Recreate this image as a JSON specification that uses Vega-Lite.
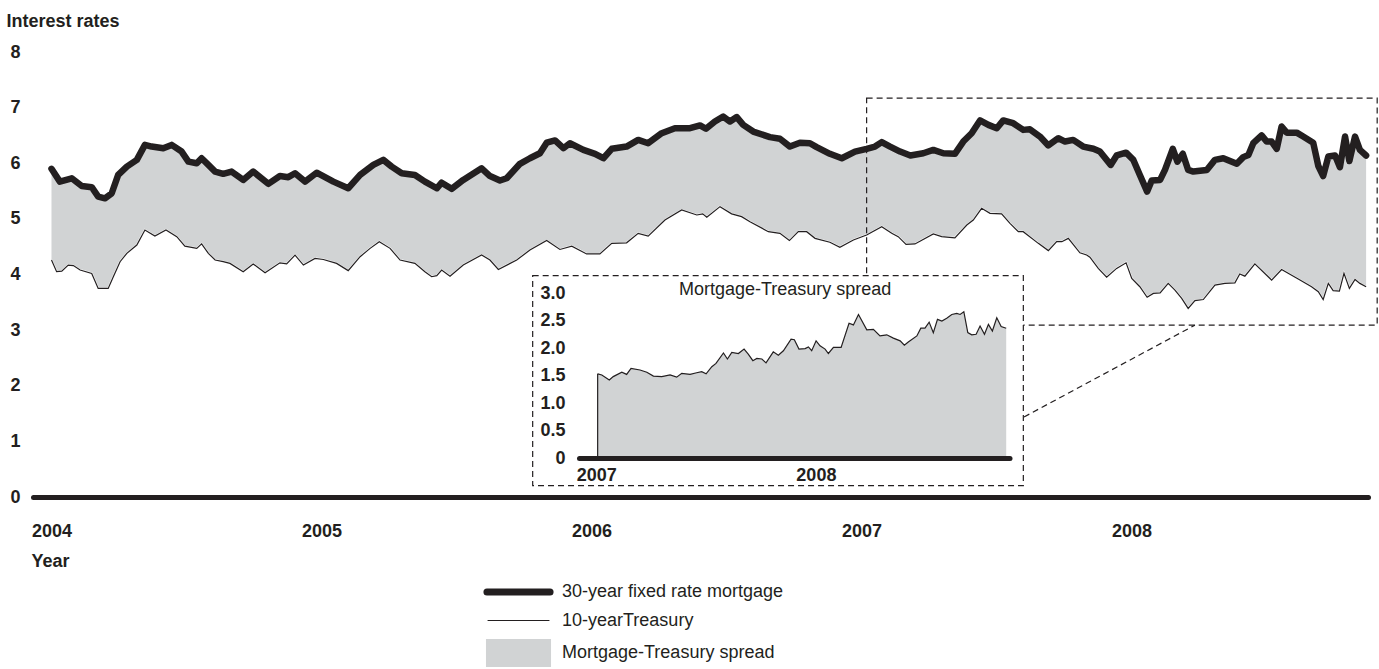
{
"$schema": "https://vega.github.io/schema/vega-lite/v6.json",
"width": 1335,
"height": 445,
"autosize": "none",
"padding": {"left": 33, "top": 52, "right": 11, "bottom": 172},
"background": "white",
"config": {"font": "Liberation Sans", "view": {"stroke": null}, "axis": {"grid": false, "labelColor": "#231f20", "titleColor": "#231f20"}},
"datasets": {
"mortgage": [
{"year":2004.000,"rate":5.90},{"year":2004.031,"rate":5.67},{"year":2004.075,"rate":5.73},{"year":2004.112,"rate":5.59},{"year":2004.149,"rate":5.57},{"year":2004.173,"rate":5.40},{"year":2004.198,"rate":5.37},{"year":2004.223,"rate":5.46},{"year":2004.247,"rate":5.79},{"year":2004.279,"rate":5.94},{"year":2004.316,"rate":6.06},{"year":2004.346,"rate":6.33},{"year":2004.371,"rate":6.30},{"year":2004.414,"rate":6.27},{"year":2004.445,"rate":6.33},{"year":2004.482,"rate":6.21},{"year":2004.507,"rate":6.03},{"year":2004.538,"rate":6.00},{"year":2004.556,"rate":6.09},{"year":2004.581,"rate":5.97},{"year":2004.606,"rate":5.85},{"year":2004.636,"rate":5.81},{"year":2004.667,"rate":5.85},{"year":2004.710,"rate":5.70},{"year":2004.747,"rate":5.85},{"year":2004.803,"rate":5.63},{"year":2004.846,"rate":5.77},{"year":2004.877,"rate":5.75},{"year":2004.902,"rate":5.82},{"year":2004.939,"rate":5.67},{"year":2004.982,"rate":5.83},{"year":2005.044,"rate":5.67},{"year":2005.099,"rate":5.55},{"year":2005.143,"rate":5.79},{"year":2005.192,"rate":5.97},{"year":2005.229,"rate":6.06},{"year":2005.260,"rate":5.94},{"year":2005.297,"rate":5.82},{"year":2005.346,"rate":5.79},{"year":2005.383,"rate":5.67},{"year":2005.427,"rate":5.55},{"year":2005.445,"rate":5.65},{"year":2005.482,"rate":5.54},{"year":2005.525,"rate":5.70},{"year":2005.593,"rate":5.91},{"year":2005.624,"rate":5.77},{"year":2005.661,"rate":5.69},{"year":2005.686,"rate":5.73},{"year":2005.735,"rate":5.99},{"year":2005.772,"rate":6.09},{"year":2005.809,"rate":6.18},{"year":2005.834,"rate":6.37},{"year":2005.865,"rate":6.41},{"year":2005.896,"rate":6.27},{"year":2005.920,"rate":6.36},{"year":2005.970,"rate":6.24},{"year":2006.013,"rate":6.17},{"year":2006.044,"rate":6.09},{"year":2006.075,"rate":6.26},{"year":2006.130,"rate":6.30},{"year":2006.173,"rate":6.42},{"year":2006.210,"rate":6.36},{"year":2006.260,"rate":6.54},{"year":2006.309,"rate":6.63},{"year":2006.365,"rate":6.63},{"year":2006.402,"rate":6.68},{"year":2006.424,"rate":6.62},{"year":2006.457,"rate":6.75},{"year":2006.488,"rate":6.84},{"year":2006.513,"rate":6.75},{"year":2006.538,"rate":6.83},{"year":2006.562,"rate":6.69},{"year":2006.599,"rate":6.57},{"year":2006.661,"rate":6.47},{"year":2006.698,"rate":6.44},{"year":2006.735,"rate":6.30},{"year":2006.772,"rate":6.37},{"year":2006.809,"rate":6.36},{"year":2006.834,"rate":6.29},{"year":2006.883,"rate":6.17},{"year":2006.927,"rate":6.09},{"year":2006.976,"rate":6.21},{"year":2007.019,"rate":6.26},{"year":2007.050,"rate":6.30},{"year":2007.075,"rate":6.38},{"year":2007.106,"rate":6.30},{"year":2007.143,"rate":6.21},{"year":2007.181,"rate":6.14},{"year":2007.229,"rate":6.18},{"year":2007.266,"rate":6.24},{"year":2007.303,"rate":6.18},{"year":2007.346,"rate":6.17},{"year":2007.377,"rate":6.39},{"year":2007.408,"rate":6.54},{"year":2007.439,"rate":6.77},{"year":2007.470,"rate":6.69},{"year":2007.501,"rate":6.63},{"year":2007.525,"rate":6.77},{"year":2007.562,"rate":6.72},{"year":2007.599,"rate":6.60},{"year":2007.624,"rate":6.61},{"year":2007.661,"rate":6.48},{"year":2007.692,"rate":6.32},{"year":2007.729,"rate":6.45},{"year":2007.754,"rate":6.39},{"year":2007.784,"rate":6.42},{"year":2007.821,"rate":6.30},{"year":2007.859,"rate":6.26},{"year":2007.883,"rate":6.21},{"year":2007.923,"rate":5.97},{"year":2007.945,"rate":6.14},{"year":2007.980,"rate":6.19},{"year":2008.007,"rate":6.06},{"year":2008.031,"rate":5.79},{"year":2008.058,"rate":5.49},{"year":2008.075,"rate":5.69},{"year":2008.106,"rate":5.70},{"year":2008.124,"rate":5.88},{"year":2008.153,"rate":6.26},{"year":2008.170,"rate":6.03},{"year":2008.190,"rate":6.17},{"year":2008.210,"rate":5.88},{"year":2008.229,"rate":5.85},{"year":2008.279,"rate":5.88},{"year":2008.309,"rate":6.06},{"year":2008.340,"rate":6.09},{"year":2008.390,"rate":5.99},{"year":2008.414,"rate":6.11},{"year":2008.433,"rate":6.15},{"year":2008.451,"rate":6.36},{"year":2008.482,"rate":6.50},{"year":2008.501,"rate":6.39},{"year":2008.519,"rate":6.39},{"year":2008.538,"rate":6.26},{"year":2008.556,"rate":6.66},{"year":2008.575,"rate":6.55},{"year":2008.612,"rate":6.55},{"year":2008.636,"rate":6.48},{"year":2008.673,"rate":6.37},{"year":2008.692,"rate":5.95},{"year":2008.710,"rate":5.77},{"year":2008.729,"rate":6.12},{"year":2008.754,"rate":6.14},{"year":2008.772,"rate":5.93},{"year":2008.791,"rate":6.48},{"year":2008.807,"rate":6.04},{"year":2008.828,"rate":6.48},{"year":2008.846,"rate":6.24},{"year":2008.869,"rate":6.14}
],
"treasury": [
{"year":2004.000,"rate":4.26},{"year":2004.019,"rate":4.05},{"year":2004.038,"rate":4.06},{"year":2004.062,"rate":4.17},{"year":2004.081,"rate":4.16},{"year":2004.106,"rate":4.08},{"year":2004.149,"rate":4.02},{"year":2004.173,"rate":3.75},{"year":2004.210,"rate":3.75},{"year":2004.229,"rate":3.96},{"year":2004.254,"rate":4.23},{"year":2004.279,"rate":4.38},{"year":2004.316,"rate":4.53},{"year":2004.346,"rate":4.80},{"year":2004.383,"rate":4.69},{"year":2004.424,"rate":4.80},{"year":2004.464,"rate":4.68},{"year":2004.494,"rate":4.51},{"year":2004.538,"rate":4.47},{"year":2004.556,"rate":4.55},{"year":2004.581,"rate":4.38},{"year":2004.606,"rate":4.26},{"year":2004.636,"rate":4.23},{"year":2004.661,"rate":4.20},{"year":2004.710,"rate":4.05},{"year":2004.747,"rate":4.19},{"year":2004.791,"rate":4.03},{"year":2004.846,"rate":4.21},{"year":2004.871,"rate":4.19},{"year":2004.902,"rate":4.35},{"year":2004.933,"rate":4.17},{"year":2004.976,"rate":4.29},{"year":2005.007,"rate":4.27},{"year":2005.056,"rate":4.20},{"year":2005.099,"rate":4.07},{"year":2005.143,"rate":4.32},{"year":2005.180,"rate":4.47},{"year":2005.214,"rate":4.59},{"year":2005.254,"rate":4.47},{"year":2005.291,"rate":4.26},{"year":2005.346,"rate":4.20},{"year":2005.383,"rate":4.05},{"year":2005.408,"rate":3.96},{"year":2005.427,"rate":3.98},{"year":2005.445,"rate":4.08},{"year":2005.476,"rate":3.97},{"year":2005.525,"rate":4.17},{"year":2005.593,"rate":4.35},{"year":2005.624,"rate":4.26},{"year":2005.655,"rate":4.09},{"year":2005.723,"rate":4.26},{"year":2005.772,"rate":4.44},{"year":2005.834,"rate":4.61},{"year":2005.883,"rate":4.45},{"year":2005.927,"rate":4.51},{"year":2005.982,"rate":4.37},{"year":2006.031,"rate":4.37},{"year":2006.075,"rate":4.56},{"year":2006.130,"rate":4.57},{"year":2006.173,"rate":4.74},{"year":2006.210,"rate":4.69},{"year":2006.272,"rate":4.98},{"year":2006.334,"rate":5.16},{"year":2006.390,"rate":5.07},{"year":2006.412,"rate":5.09},{"year":2006.427,"rate":5.03},{"year":2006.476,"rate":5.22},{"year":2006.519,"rate":5.09},{"year":2006.556,"rate":5.04},{"year":2006.587,"rate":4.95},{"year":2006.655,"rate":4.77},{"year":2006.698,"rate":4.74},{"year":2006.733,"rate":4.61},{"year":2006.766,"rate":4.77},{"year":2006.797,"rate":4.77},{"year":2006.828,"rate":4.65},{"year":2006.883,"rate":4.58},{"year":2006.920,"rate":4.49},{"year":2006.970,"rate":4.62},{"year":2007.019,"rate":4.71},{"year":2007.075,"rate":4.86},{"year":2007.112,"rate":4.74},{"year":2007.136,"rate":4.68},{"year":2007.165,"rate":4.54},{"year":2007.198,"rate":4.55},{"year":2007.266,"rate":4.73},{"year":2007.297,"rate":4.68},{"year":2007.346,"rate":4.66},{"year":2007.390,"rate":4.89},{"year":2007.414,"rate":4.98},{"year":2007.445,"rate":5.19},{"year":2007.476,"rate":5.10},{"year":2007.519,"rate":5.09},{"year":2007.550,"rate":4.92},{"year":2007.581,"rate":4.77},{"year":2007.599,"rate":4.77},{"year":2007.655,"rate":4.56},{"year":2007.692,"rate":4.43},{"year":2007.723,"rate":4.59},{"year":2007.742,"rate":4.59},{"year":2007.766,"rate":4.65},{"year":2007.809,"rate":4.39},{"year":2007.834,"rate":4.35},{"year":2007.846,"rate":4.31},{"year":2007.877,"rate":4.11},{"year":2007.908,"rate":3.95},{"year":2007.945,"rate":4.11},{"year":2007.980,"rate":4.21},{"year":2008.001,"rate":3.93},{"year":2008.031,"rate":3.78},{"year":2008.058,"rate":3.59},{"year":2008.081,"rate":3.66},{"year":2008.106,"rate":3.67},{"year":2008.136,"rate":3.84},{"year":2008.161,"rate":3.72},{"year":2008.186,"rate":3.57},{"year":2008.210,"rate":3.39},{"year":2008.235,"rate":3.53},{"year":2008.266,"rate":3.55},{"year":2008.309,"rate":3.81},{"year":2008.346,"rate":3.84},{"year":2008.383,"rate":3.85},{"year":2008.401,"rate":4.01},{"year":2008.420,"rate":3.97},{"year":2008.457,"rate":4.19},{"year":2008.519,"rate":3.90},{"year":2008.556,"rate":4.09},{"year":2008.624,"rate":3.90},{"year":2008.667,"rate":3.78},{"year":2008.692,"rate":3.69},{"year":2008.710,"rate":3.55},{"year":2008.729,"rate":3.84},{"year":2008.747,"rate":3.71},{"year":2008.770,"rate":3.70},{"year":2008.787,"rate":4.02},{"year":2008.807,"rate":3.75},{"year":2008.828,"rate":3.91},{"year":2008.846,"rate":3.84},{"year":2008.869,"rate":3.78}
],
"spread": [
{"year":2007.006,"spread":1.53},{"year":2007.025,"spread":1.51},{"year":2007.059,"spread":1.42},{"year":2007.077,"spread":1.48},{"year":2007.116,"spread":1.56},{"year":2007.138,"spread":1.52},{"year":2007.158,"spread":1.63},{"year":2007.199,"spread":1.60},{"year":2007.230,"spread":1.56},{"year":2007.260,"spread":1.49},{"year":2007.298,"spread":1.48},{"year":2007.336,"spread":1.51},{"year":2007.366,"spread":1.47},{"year":2007.389,"spread":1.54},{"year":2007.427,"spread":1.52},{"year":2007.457,"spread":1.55},{"year":2007.480,"spread":1.57},{"year":2007.500,"spread":1.53},{"year":2007.526,"spread":1.66},{"year":2007.545,"spread":1.72},{"year":2007.579,"spread":1.91},{"year":2007.597,"spread":1.80},{"year":2007.617,"spread":1.92},{"year":2007.647,"spread":1.90},{"year":2007.673,"spread":1.98},{"year":2007.692,"spread":1.89},{"year":2007.713,"spread":1.77},{"year":2007.731,"spread":1.81},{"year":2007.754,"spread":1.80},{"year":2007.773,"spread":1.73},{"year":2007.806,"spread":1.93},{"year":2007.829,"spread":1.87},{"year":2007.852,"spread":1.95},{"year":2007.887,"spread":2.16},{"year":2007.902,"spread":2.15},{"year":2007.923,"spread":1.98},{"year":2007.951,"spread":1.99},{"year":2007.966,"spread":2.02},{"year":2007.981,"spread":1.95},{"year":2008.001,"spread":2.13},{"year":2008.019,"spread":2.04},{"year":2008.042,"spread":1.98},{"year":2008.057,"spread":1.90},{"year":2008.080,"spread":2.01},{"year":2008.115,"spread":2.01},{"year":2008.151,"spread":2.45},{"year":2008.171,"spread":2.42},{"year":2008.194,"spread":2.61},{"year":2008.232,"spread":2.33},{"year":2008.262,"spread":2.34},{"year":2008.292,"spread":2.22},{"year":2008.323,"spread":2.24},{"year":2008.353,"spread":2.18},{"year":2008.384,"spread":2.13},{"year":2008.403,"spread":2.05},{"year":2008.421,"spread":2.11},{"year":2008.460,"spread":2.22},{"year":2008.478,"spread":2.36},{"year":2008.497,"spread":2.36},{"year":2008.516,"spread":2.47},{"year":2008.535,"spread":2.28},{"year":2008.554,"spread":2.52},{"year":2008.574,"spread":2.49},{"year":2008.596,"spread":2.54},{"year":2008.619,"spread":2.61},{"year":2008.642,"spread":2.63},{"year":2008.657,"spread":2.61},{"year":2008.674,"spread":2.66},{"year":2008.692,"spread":2.28},{"year":2008.710,"spread":2.24},{"year":2008.730,"spread":2.25},{"year":2008.748,"spread":2.40},{"year":2008.768,"spread":2.25},{"year":2008.786,"spread":2.43},{"year":2008.804,"spread":2.31},{"year":2008.824,"spread":2.55},{"year":2008.844,"spread":2.39},{"year":2008.867,"spread":2.36}
]
},
"layer": [
{
"data": {"name": "mortgage"},
"mark": {"type": "area", "opacity": 1},
"encoding": {
"x": {"field": "year", "type": "quantitative", "scale": {"domain": [2003.9315, 2008.876], "nice": false, "zero": false},
"axis": {"orient": "bottom", "values": [2004, 2005, 2006, 2007, 2008], "format": "d", "domainWidth": 5, "domainColor": "#231f20", "domainCap": "round", "ticks": false, "tickSize": 0, "labelPadding": 25, "labelFontSize": 18, "labelFontWeight": "bold", "labelFlush": false, "title": "Year", "titleFontSize": 18, "titleFontWeight": "bold", "titleAnchor": "start", "titleAlign": "left", "titleBaseline": "alphabetic", "titleX": -2, "titleY": 69.5, "zindex": 1}},
"y": {"field": "rate", "type": "quantitative", "scale": {"domain": [0, 8], "nice": false},
"axis": {"orient": "left", "values": [0, 1, 2, 3, 4, 5, 6, 7, 8], "domain": false, "ticks": false, "tickSize": 0, "labelPadding": 13, "labelFontSize": 18, "labelFontWeight": "bold", "title": "Interest rates", "titleAngle": 0, "titleAlign": "left", "titleBaseline": "alphabetic", "titleX": -27, "titleY": -25.5, "titleFontSize": 18, "titleFontWeight": "bold", "zindex": 1}},
"color": {"datum": "Mortgage-Treasury spread", "type": "nominal",
"scale": {"domain": ["30-year fixed rate mortgage", "10-yearTreasury", "Mortgage-Treasury spread"], "range": ["#231f20", "#231f20", "#d1d3d4"]},
"legend": {"orient": "none", "legendX": 476.5, "legendY": 531, "title": null, "padding": 0, "direction": "vertical", "labelFontSize": 18, "labelColor": "#231f20", "labelLimit": 0, "labelOffset": 34.5, "symbolSize": 576, "rowPadding": 3.5,
"encoding": {"symbols": {
"shape": {"value": {"expr": "datum.value === 'Mortgage-Treasury spread' ? 'M-2.71,-1.17H2.71V1.17H-2.71Z' : (datum.value === '30-year fixed rate mortgage' ? 'M-2.63,-0.583M2.63,0.583M-2.63,0H2.63' : 'M-2.54,-1.067M2.54,1.067M-2.54,0H2.54')"}},
"fill": {"value": {"expr": "datum.value === 'Mortgage-Treasury spread' ? '#d1d3d4' : 'transparent'"}},
"stroke": {"value": {"expr": "datum.value === 'Mortgage-Treasury spread' ? 'transparent' : '#231f20'"}},
"strokeWidth": {"value": {"expr": "datum.value === '30-year fixed rate mortgage' ? 7 : (datum.value === '10-yearTreasury' ? 1.2 : 0)"}},
"strokeCap": {"value": "round"},
"strokeJoin": {"value": "round"},
"size": {"value": 576},
"opacity": {"value": 1},
"fillOpacity": {"value": 1},
"strokeOpacity": {"value": 1}
}}}
}
}
},
{
"data": {"name": "treasury"},
"mark": {"type": "area", "fill": "white", "stroke": "white", "strokeWidth": 2, "opacity": 1},
"encoding": {
"x": {"field": "year", "type": "quantitative", "scale": {"domain": [2003.9315, 2008.876], "nice": false, "zero": false}, "axis": null},
"y": {"field": "rate", "type": "quantitative", "scale": {"domain": [0, 8], "nice": false}, "axis": null}
}
},
{
"data": {"name": "treasury"},
"mark": {"type": "line", "strokeWidth": 1.2},
"encoding": {
"x": {"field": "year", "type": "quantitative", "scale": {"domain": [2003.9315, 2008.876], "nice": false, "zero": false}, "axis": null},
"y": {"field": "rate", "type": "quantitative", "scale": {"domain": [0, 8], "nice": false}, "axis": null},
"color": {"datum": "10-yearTreasury", "type": "nominal", "legend": null}
}
},
{
"data": {"name": "mortgage"},
"mark": {"type": "line", "strokeWidth": 6.5, "strokeJoin": "round", "strokeCap": "round"},
"encoding": {
"x": {"field": "year", "type": "quantitative", "scale": {"domain": [2003.9315, 2008.876], "nice": false, "zero": false}, "axis": null},
"y": {"field": "rate", "type": "quantitative", "scale": {"domain": [0, 8], "nice": false}, "axis": null},
"color": {"datum": "30-year fixed rate mortgage", "type": "nominal", "legend": null}
}
},
{
"data": {"values": [{"x1": 2007.019, "x2": 2008.910, "y1": 3.09, "y2": 7.17}]},
"mark": {"type": "rect", "fill": null, "stroke": "#231f20", "strokeWidth": 1.2, "strokeDash": [6, 4]},
"encoding": {
"x": {"field": "x1", "type": "quantitative", "scale": {"domain": [2003.9315, 2008.876], "nice": false, "zero": false}, "axis": null},
"x2": {"field": "x2"},
"y": {"field": "y1", "type": "quantitative", "scale": {"domain": [0, 8], "nice": false}, "axis": null},
"y2": {"field": "y2"}
}
},
{
"data": {"values": [{"x1": 2007.602, "y1": 1.439, "x2": 2008.235, "y2": 3.09}]},
"mark": {"type": "rule", "stroke": "#231f20", "strokeWidth": 1.2, "strokeDash": [6, 4]},
"encoding": {
"x": {"field": "x1", "type": "quantitative", "scale": {"domain": [2003.9315, 2008.876], "nice": false, "zero": false}, "axis": null},
"x2": {"field": "x2"},
"y": {"field": "y1", "type": "quantitative", "scale": {"domain": [0, 8], "nice": false}, "axis": null},
"y2": {"field": "y2"}
}
},
{
"data": {"values": [{"x1": 2006.710, "x2": 2008.945, "y1": -0.504, "y2": 3.315}]},
"mark": {"type": "rect", "fill": "white", "stroke": "#231f20", "strokeWidth": 1.2, "strokeDash": [6, 4]},
"encoding": {
"x": {"field": "x1", "type": "quantitative", "scale": {"domain": [2006.921, 2008.882], "range": [546, 976.5], "nice": false, "zero": false}, "axis": null},
"x2": {"field": "x2"},
"y": {"field": "y1", "type": "quantitative", "scale": {"domain": [0, 3], "range": [406, 241], "nice": false}, "axis": null},
"y2": {"field": "y2"}
}
},
{
"data": {"name": "spread"},
"mark": {"type": "area", "fill": "#d1d3d4", "opacity": 1},
"encoding": {
"x": {"field": "year", "type": "quantitative", "scale": {"domain": [2006.921, 2008.882], "range": [546, 976.5], "nice": false, "zero": false},
"axis": {"orient": "bottom", "offset": -39, "values": [2007, 2008], "format": "d", "domainWidth": 5, "domainColor": "#231f20", "domainCap": "round", "ticks": false, "tickSize": 0, "labelPadding": 8, "labelFontSize": 18, "labelFontWeight": "bold", "labelFlush": false, "title": null, "zindex": 1}},
"y": {"field": "spread", "type": "quantitative", "scale": {"domain": [0, 3], "range": [406, 241], "nice": false},
"axis": {"orient": "left", "offset": -546, "values": [0, 0.5, 1, 1.5, 2, 2.5, 3], "labelExpr": "datum.value == 0 ? '0' : format(datum.value, '.1f')", "domain": false, "ticks": false, "tickSize": 0, "labelPadding": 14, "labelFontSize": 18, "labelFontWeight": "bold", "title": null, "zindex": 1}}
}
},
{
"data": {"name": "spread"},
"mark": {"type": "line", "stroke": "#231f20", "strokeWidth": 1.2},
"encoding": {
"x": {"field": "year", "type": "quantitative", "scale": {"domain": [2006.921, 2008.882], "range": [546, 976.5], "nice": false, "zero": false}, "axis": null},
"y": {"field": "spread", "type": "quantitative", "scale": {"domain": [0, 3], "range": [406, 241], "nice": false}, "axis": null}
}
},
{
"data": {"values": [{"year": 2007.006, "spread": 1.53}]},
"mark": {"type": "rule", "stroke": "#231f20", "strokeWidth": 1.2},
"encoding": {
"x": {"field": "year", "type": "quantitative", "scale": {"domain": [2006.921, 2008.882], "range": [546, 976.5], "nice": false, "zero": false}, "axis": null},
"y": {"field": "spread", "type": "quantitative", "scale": {"domain": [0, 3], "range": [406, 241], "nice": false}, "axis": null},
"y2": {"datum": 0}
}
},
{
"data": {"values": [{"year": 2007.86, "spread": 3.05, "label": "Mortgage-Treasury spread"}]},
"mark": {"type": "text", "fontSize": 18, "color": "#231f20", "align": "center", "baseline": "middle"},
"encoding": {
"x": {"field": "year", "type": "quantitative", "scale": {"domain": [2006.921, 2008.882], "range": [546, 976.5], "nice": false, "zero": false}, "axis": null},
"y": {"field": "spread", "type": "quantitative", "scale": {"domain": [0, 3], "range": [406, 241], "nice": false}, "axis": null},
"text": {"field": "label"}
}
}
],
"resolve": {"scale": {"x": "independent", "y": "independent"}}
}
